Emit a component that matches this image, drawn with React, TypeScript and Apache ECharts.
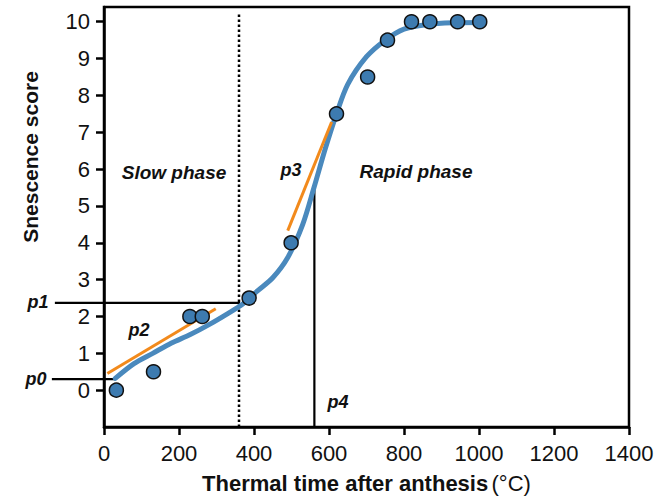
import React, { useEffect, useRef } from "react";
import * as echarts from "echarts";

// Observed data (thermal time °C, senescence score)
const obsX = [33, 132, 229, 262, 387, 499, 620, 703, 756, 820, 869, 943, 1002];
const obsY = [0, 0.5, 2, 2, 2.5, 4, 7.5, 8.5, 9.5, 10, 10, 10, 10];

// Fitted curve
const fitX = [30, 80, 130, 180, 230, 280, 330, 370, 410, 450, 490, 530, 560, 590, 620, 650, 700, 750, 800, 860, 930, 1010];
const fitY = [0.32, 0.72, 1.0, 1.28, 1.51, 1.78, 2.08, 2.34, 2.7, 3.05, 3.6, 4.5, 5.5, 6.55, 7.5, 8.3, 9.05, 9.5, 9.8, 9.92, 9.97, 9.98];

// Tangent lines (orange)
const p2X = [9, 298];
const p2Y = [0.45, 2.21];
const p3X = [490, 607];
const p3Y = [4.33, 7.28];

// Reference lines (black)
const p0X = [-139, 30];
const p0Y = [0.3, 0.3];
const p1X = [-131, 363];
const p1Y = [2.37, 2.37];
const p4X = [561, 561];
const p4Y = [-1, 5.58];
const phaseX = [360, 360];
const phaseY = [-1, 10.23];

const xTicks = [0, 200, 400, 600, 800, 1000, 1200, 1400];
const yTicks = [0, 1, 2, 3, 4, 5, 6, 7, 8, 9, 10];

const FONT = "'Liberation Sans', Arial, Helvetica, sans-serif";

const zip = (xs: number[], ys: number[]) => xs.map((x, i) => [x, ys[i]]);

export default function App() {
  const ref = useRef<HTMLDivElement>(null);
  useEffect(() => {
    if (!ref.current) return;
    const chart = echarts.init(ref.current, undefined, { renderer: "svg" });
    const blackLine = (xs: number[], ys: number[], type: any = "solid", width = 2.2) => ({
      type: "line",
      data: zip(xs, ys),
      symbol: "none",
      clip: false,
      silent: true,
      z: 3,
      lineStyle: { color: "#000", width, type },
    });
    const label = (text: string, x: number, y: number, size: number) => ({
      type: "text",
      x,
      y,
      silent: true,
      style: {
        text,
        font: `italic bold ${size}px ${FONT}`,
        fill: "#111",
        textAlign: "center",
        textVerticalAlign: "middle",
      },
    });
    chart.setOption({
      animation: false,
      backgroundColor: "#fff",
      grid: {
        left: 104,
        right: 38,
        top: 7,
        bottom: 71,
        show: true,
        borderColor: "#000",
        borderWidth: 2.5,
        outerBoundsMode: "none",
        containLabel: false,
      },
      xAxis: {
        type: "value",
        min: 0,
        max: 1400,
        interval: 200,
        name: "{b|Thermal time after anthesis} {r|(°C)}",
        nameLocation: "middle",
        nameGap: 45,
        nameTextStyle: {
          rich: {
            b: { fontFamily: FONT, fontWeight: "bold", fontSize: 22, color: "#111" },
            r: { fontFamily: FONT, fontWeight: "normal", fontSize: 22, color: "#111" },
          },
        },
        axisLine: { onZero: false, lineStyle: { color: "#000", width: 2.5 } },
        axisTick: { show: true, length: 8, lineStyle: { color: "#000", width: 2.5 }, customValues: xTicks },
        axisLabel: {
          margin: 15,
          fontFamily: FONT,
          fontSize: 22,
          color: "#111",
          customValues: xTicks,
          formatter: (v: number) => String(v),
        },
        splitLine: { show: false },
      },
      yAxis: {
        type: "value",
        min: -1,
        max: 10.4,
        interval: 1,
        axisLine: { onZero: false, lineStyle: { color: "#000", width: 2.5 } },
        axisTick: { show: true, length: 8, lineStyle: { color: "#000", width: 2.5 }, customValues: yTicks },
        axisLabel: {
          margin: 14,
          fontFamily: FONT,
          fontSize: 22,
          color: "#111",
          customValues: yTicks,
          formatter: (v: number) => String(v),
        },
        splitLine: { show: false },
      },
      series: [
        blackLine(phaseX, phaseY, [2.5, 2.5], 2.5),
        blackLine(p4X, p4Y),
        {
          type: "line",
          data: zip(fitX, fitY),
          symbol: "none",
          smooth: 0.3,
          silent: true,
          z: 4,
          lineStyle: { color: "#4a89bd", width: 5, cap: "round" },
        },
        {
          type: "line",
          data: zip(p2X, p2Y),
          symbol: "none",
          silent: true,
          z: 5,
          lineStyle: { color: "#f28a1c", width: 3 },
        },
        {
          type: "line",
          data: zip(p3X, p3Y),
          symbol: "none",
          silent: true,
          z: 5,
          lineStyle: { color: "#f28a1c", width: 3 },
        },
        {
          type: "scatter",
          data: zip(obsX, obsY),
          symbol: "circle",
          symbolSize: 14,
          silent: true,
          z: 6,
          itemStyle: { color: "#3d7bb0", borderColor: "#111", borderWidth: 1.5, opacity: 1 },
        },
      ],
    });

    // Lines that extend beyond the plotting area: positioned through the axes' scales
    const toPx = (x: number, y: number) =>
      chart.convertToPixel({ gridIndex: 0 }, [x, y]) as number[];
    const hline = (xs: number[], ys: number[]) => {
      const a = toPx(xs[0], ys[0]);
      const b = toPx(xs[1], ys[1]);
      return {
        type: "line",
        silent: true,
        z: 3,
        shape: { x1: a[0], y1: a[1], x2: b[0], y2: b[1] },
        style: { stroke: "#000", lineWidth: 2.2 },
      };
    };

    chart.setOption({
      graphic: [
        hline(p0X, p0Y),
        hline(p1X, p1Y),
        {
          type: "text",
          x: 30,
          y: 157,
          rotation: Math.PI / 2,
          silent: true,
          style: {
            text: "Snescence score",
            font: `bold 21px ${FONT}`,
            fill: "#111",
            textAlign: "center",
            textVerticalAlign: "middle",
          },
        },
        label("p0", 36, 379, 18),
        label("p1", 38, 302, 18),
        label("p2", 139, 330, 18),
        label("p3", 291, 170, 18),
        label("p4", 338, 402, 18),
        label("Slow phase", 174, 172, 19),
        label("Rapid phase", 416, 171, 19),
      ],
    });
    return () => chart.dispose();
  }, []);
  return (
    <div
      ref={ref}
      style={{ position: "fixed", left: 0, top: 0, width: 667, height: 498, background: "#fff" }}
    />
  );
}
